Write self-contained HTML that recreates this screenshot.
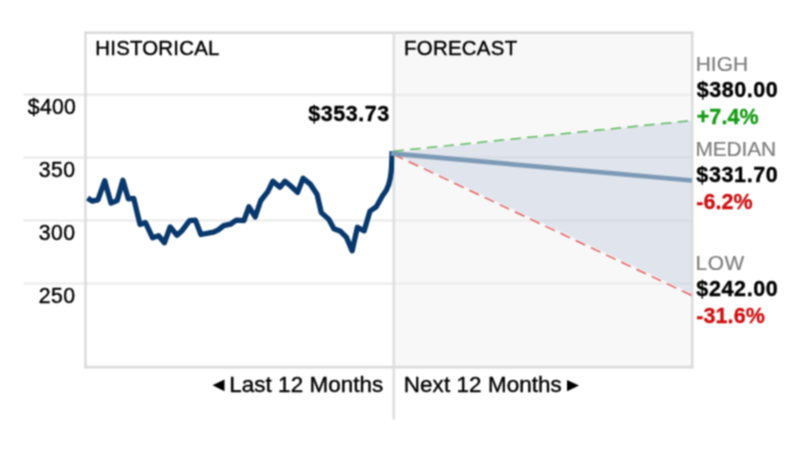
<!DOCTYPE html>
<html>
<head>
<meta charset="utf-8">
<style>
html,body{margin:0;padding:0;background:#fff;}
body{width:800px;height:476px;overflow:hidden;position:relative;font-family:"Liberation Sans",sans-serif;}
svg{position:absolute;left:0;top:0;font-family:"Liberation Sans",sans-serif;filter:url(#soft);}
text{stroke-linejoin:round;}
</style>
</head>
<body>
<svg width="800" height="476" viewBox="0 0 800 476">
  <defs><filter id="soft" x="0" y="0" width="100%" height="100%" color-interpolation-filters="sRGB"><feConvolveMatrix order="3" kernelMatrix="1 2 1 2 4 2 1 2 1" divisor="16" edgeMode="duplicate" preserveAlpha="true"/></filter></defs>
  <rect x="-10" y="-10" width="820" height="496" fill="#fff"/>
  <!-- forecast background -->
  <rect x="394" y="32.7" width="298.2" height="334.5" fill="#f8f8f8"/>
  <!-- gridlines -->
  <g stroke="#ececec" stroke-width="2.4">
    <line x1="23.5" y1="94.7" x2="692.2" y2="94.7"/>
    <line x1="23.5" y1="157.5" x2="692.2" y2="157.5"/>
    <line x1="23.5" y1="220.5" x2="692.2" y2="220.5"/>
    <line x1="23.5" y1="283.6" x2="692.2" y2="283.6"/>
  </g>
  <!-- forecast cone -->
  <polygon points="393.4,152.8 692,120.5 692,293.5" fill="rgb(186,194,217)" fill-opacity="0.385"/>
  <!-- frame -->
  <g stroke="#dadada" stroke-width="2.4" fill="none">
    <line x1="84.4" y1="32.7" x2="693.3" y2="32.7"/>
    <line x1="85.5" y1="31.6" x2="85.5" y2="368.5"/>
    <line x1="84.4" y1="367.2" x2="693.3" y2="367.2" stroke-width="2.8" stroke="#dcdcdc"/>
    <line x1="692.2" y1="31.6" x2="692.2" y2="368.5"/>
    <line x1="393.8" y1="31.6" x2="393.8" y2="419.5" stroke="#dedede" stroke-width="2.6"/>
  </g>
  <clipPath id="cl"><rect x="86" y="0" width="308.3" height="476"/></clipPath>
  <!-- historical -->
  <polyline clip-path="url(#cl)" fill="none" stroke="#08386c" stroke-width="5.3" stroke-linejoin="round" stroke-linecap="butt"
   points="87.6,198.0 92.1,201.2 97.9,199.8 104.7,180.8 111.0,203.1 117.2,200.5 122.9,180.3 128.3,198.8 133.7,198.4 140,224.4 145.5,222.6 152.5,237.7 158.6,235.7 164.4,242.8 170.2,226.9 177,235.2 182,230.7 189.6,220.6 195.4,220.1 200.9,234.5 213.6,232.2 218.3,229.9 223.7,225.6 230.4,224.2 236.3,220.1 243.9,220.7 248.9,206.8 255.2,216.9 260.8,200.5 267.8,191.7 272.9,181.2 279.9,187.2 285,181.2 290.5,185.8 297.6,192.4 303.1,178.3 310.2,184.1 317,194.2 321.3,212.6 328.9,219.4 333.9,228.8 340.5,231.3 346.5,237.4 352.1,250.8 357.4,227.3 364.2,230.8 370,211.1 376.3,206.8 382.6,195.5 386.3,190.3 388.6,184.8 390.2,178.3 391.2,171.5 391.7,164 392.2,151.2"/>
  <!-- forecast lines -->
  <line x1="393.4" y1="151.3" x2="692" y2="120.5" stroke="#5cb85c" stroke-width="1.5" stroke-dasharray="10.6,6.2"/>
  <line x1="393.4" y1="154.3" x2="692" y2="295.5" stroke="#e25c5c" stroke-width="1.5" stroke-dasharray="10.6,6.2"/>
  <line x1="391" y1="153.4" x2="692" y2="180.5" stroke="#7c9ab6" stroke-width="4.7"/>
  <!-- arrows -->
  <polygon points="212.5,385.3 224.5,379.5 224.5,391.2" fill="#000"/>
  <polygon points="579,385.6 567,380 567,391.3" fill="#000"/>
  <!-- labels -->
  <text x="95.30" y="55.00" font-size="20.4" font-weight="normal" fill="#000" stroke="#000" stroke-width="0.40" letter-spacing="0.222">HISTORICAL</text>
  <text x="404.00" y="55.00" font-size="20.4" font-weight="normal" fill="#000" stroke="#000" stroke-width="0.40" letter-spacing="0.300">FORECAST</text>
  <text x="27.80" y="113.50" font-size="21.2" font-weight="normal" fill="#000" stroke="#000" stroke-width="0.40" letter-spacing="0.300">$400</text>
  <text x="38.80" y="176.50" font-size="21.2" font-weight="normal" fill="#000" stroke="#000" stroke-width="0.40" letter-spacing="0.450">350</text>
  <text x="38.80" y="239.50" font-size="21.2" font-weight="normal" fill="#000" stroke="#000" stroke-width="0.40" letter-spacing="0.450">300</text>
  <text x="38.80" y="302.60" font-size="21.2" font-weight="normal" fill="#000" stroke="#000" stroke-width="0.40" letter-spacing="0.450">250</text>
  <text x="308.30" y="121.20" font-size="21.5" font-weight="bold" fill="#000" stroke="#000" stroke-width="0.35" letter-spacing="0.550">$353.73</text>
  <text x="695.70" y="70.50" font-size="20.9" font-weight="normal" fill="#7d7d7d" stroke="#7d7d7d" stroke-width="0.20" letter-spacing="0.067">HIGH</text>
  <text x="696.70" y="96.80" font-size="21.5" font-weight="bold" fill="#000" stroke="#000" stroke-width="0.35" letter-spacing="0.550">$380.00</text>
  <text x="696.70" y="123.70" font-size="21.5" font-weight="bold" fill="#149a14" stroke="#149a14" stroke-width="0.35" letter-spacing="0.100">+7.4%</text>
  <text x="695.50" y="156.30" font-size="20.9" font-weight="normal" fill="#7d7d7d" stroke="#7d7d7d" stroke-width="0.20" letter-spacing="-0.120">MEDIAN</text>
  <text x="696.30" y="182.00" font-size="21.5" font-weight="bold" fill="#000" stroke="#000" stroke-width="0.35" letter-spacing="0.633">$331.70</text>
  <text x="696.30" y="209.40" font-size="21.5" font-weight="bold" fill="#cc1010" stroke="#cc1010" stroke-width="0.35" letter-spacing="0.050">-6.2%</text>
  <text x="695.50" y="270.20" font-size="20.9" font-weight="normal" fill="#7d7d7d" stroke="#7d7d7d" stroke-width="0.20" letter-spacing="0.600">LOW</text>
  <text x="696.30" y="295.70" font-size="21.5" font-weight="bold" fill="#000" stroke="#000" stroke-width="0.35" letter-spacing="0.633">$242.00</text>
  <text x="696.30" y="322.90" font-size="21.5" font-weight="bold" fill="#cc1010" stroke="#cc1010" stroke-width="0.35" letter-spacing="0.080">-31.6%</text>
  <text x="229.20" y="391.60" font-size="22.4" font-weight="normal" fill="#000" stroke="#000" stroke-width="0.40" letter-spacing="0.077">Last 12 Months</text>
  <text x="403.80" y="391.60" font-size="22.4" font-weight="normal" fill="#000" stroke="#000" stroke-width="0.40" letter-spacing="0.088">Next 12 Months</text>
</svg>
</body>
</html>
